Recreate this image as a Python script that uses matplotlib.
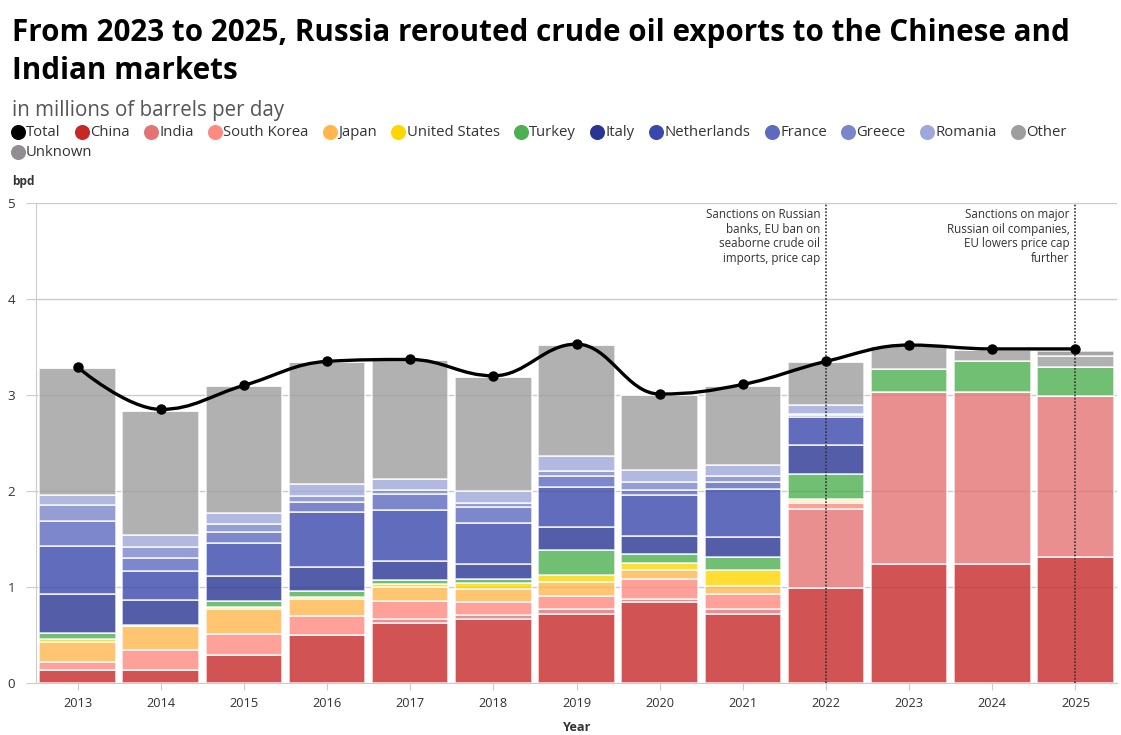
import numpy as np
import matplotlib
matplotlib.use("Agg")
import matplotlib.pyplot as plt
from matplotlib.path import Path
from matplotlib.patches import PathPatch
from matplotlib.lines import Line2D

plt.rcParams['font.family'] = ['Open Sans', 'DejaVu Sans']

# data, millions of barrels per day
years = ['2013', '2014', '2015', '2016', '2017', '2018', '2019',
         '2020', '2021', '2022', '2023', '2024', '2025']
total = [3.29, 2.85, 3.10, 3.35, 3.37, 3.20, 3.53, 3.01, 3.11, 3.35, 3.52, 3.48, 3.48]

china = [0.14, 0.14, 0.29, 0.50, 0.62, 0.67, 0.72, 0.84, 0.72, 0.99, 1.24, 1.24, 1.31]
india = [0.00, 0.00, 0.00, 0.00, 0.05, 0.04, 0.05, 0.03, 0.05, 0.82, 1.79, 1.79, 1.68]
south_korea = [0.08, 0.20, 0.22, 0.20, 0.18, 0.13, 0.14, 0.21, 0.16, 0.06, 0, 0, 0]
japan = [0.21, 0.25, 0.26, 0.18, 0.15, 0.14, 0.14, 0.10, 0.08, 0.03, 0, 0, 0]
united_states = [0.03, 0.00, 0.02, 0.02, 0.03, 0.06, 0.08, 0.07, 0.17, 0.02, 0, 0, 0]
turkey = [0.06, 0.01, 0.06, 0.06, 0.04, 0.04, 0.26, 0.09, 0.13, 0.26, 0.24, 0.32, 0.30]
italy = [0.41, 0.26, 0.26, 0.25, 0.20, 0.16, 0.23, 0.19, 0.21, 0.30, 0, 0, 0]
netherlands = [0.50, 0.31, 0.35, 0.57, 0.53, 0.43, 0.42, 0.43, 0.50, 0.29, 0, 0, 0]
france = [0.26, 0.13, 0.11, 0.11, 0.17, 0.16, 0.12, 0.05, 0.07, 0.02, 0, 0, 0]
greece = [0.16, 0.12, 0.09, 0.06, 0.04, 0.04, 0.05, 0.08, 0.07, 0.01, 0, 0, 0]
romania = [0.11, 0.12, 0.11, 0.12, 0.12, 0.13, 0.15, 0.13, 0.11, 0.10, 0, 0, 0]
other = [1.32, 1.29, 1.32, 1.27, 1.23, 1.19, 1.16, 0.78, 0.82, 0.44, 0.24, 0.12, 0.12]
unknown = [0, 0, 0, 0, 0, 0, 0, 0, 0, 0, 0, 0, 0.05]

series = [
    ('China', china, '#c62828'),
    ('India', india, '#e57373'),
    ('South Korea', south_korea, '#ff8a80'),
    ('Japan', japan, '#ffb74d'),
    ('United States', united_states, '#ffd600'),
    ('Turkey', turkey, '#4caf50'),
    ('Italy', italy, '#283593'),
    ('Netherlands', netherlands, '#3949ab'),
    ('France', france, '#5c6bc0'),
    ('Greece', greece, '#7986cb'),
    ('Romania', romania, '#9fa8da'),
    ('Other', other, '#9e9e9e'),
    ('Unknown', unknown, '#918d93'),
]

events = [
    (9, "Sanctions on Russian\nbanks, EU ban on\nseaborne crude oil\nimports, price cap"),
    (12, "Sanctions on major\nRussian oil companies,\nEU lowers price cap\nfurther"),
]

W, H = 1121, 735
fig = plt.figure(figsize=(W / 100, H / 100), dpi=100)
ax = fig.add_axes([36 / W, (H - 683) / H, (1117 - 36) / W, (683 - 203) / H])
renderer = fig.canvas.get_renderer()

x = np.arange(len(years))
bottom = np.zeros(len(years))
for name, vals, col in series:
    vals = np.array(vals)
    ax.bar(x, vals, width=0.92, bottom=bottom, color=col, alpha=0.8,
           edgecolor='white', linewidth=1.2, zorder=2)
    bottom += vals


# smooth line like a highcharts spline
def spline_path(xs, ys, smoothing=1.5):
    denom = smoothing + 1
    verts = [(xs[0], ys[0])]
    codes = [Path.MOVETO]
    ctrl = []
    n = len(xs)
    for i in range(n):
        if i == 0 or i == n - 1:
            ctrl.append(((xs[i], ys[i]), (xs[i], ys[i])))
            continue
        lx = (smoothing * xs[i] + xs[i - 1]) / denom
        ly = (smoothing * ys[i] + ys[i - 1]) / denom
        rx = (smoothing * xs[i] + xs[i + 1]) / denom
        ry = (smoothing * ys[i] + ys[i + 1]) / denom
        corr = (ry - ly) * (rx - xs[i]) / (rx - lx) + ys[i] - ry
        ly += corr
        ry += corr
        if ly > max(ys[i - 1], ys[i]):
            ly = max(ys[i - 1], ys[i])
            ry = 2 * ys[i] - ly
        elif ly < min(ys[i - 1], ys[i]):
            ly = min(ys[i - 1], ys[i])
            ry = 2 * ys[i] - ly
        if ry > max(ys[i + 1], ys[i]):
            ry = max(ys[i + 1], ys[i])
            ly = 2 * ys[i] - ry
        elif ry < min(ys[i + 1], ys[i]):
            ry = min(ys[i + 1], ys[i])
            ly = 2 * ys[i] - ry
        ctrl.append(((lx, ly), (rx, ry)))
    for i in range(1, n):
        verts += [ctrl[i - 1][1], ctrl[i][0], (xs[i], ys[i])]
        codes += [Path.CURVE4] * 3
    return Path(verts, codes)


ax.add_patch(PathPatch(spline_path(list(x), total), facecolor='none',
                       edgecolor='black', lw=2.4, zorder=4))
ax.plot(x, total, 'o', color='black', ms=6.5, zorder=5)

for xi, txt in events:
    ax.axvline(xi, color='#333333', ls=(0, (1, 1)), lw=1.2, zorder=3)
    ax.text(xi - 0.07, 4.95, txt, ha='right', va='top', fontsize=8.4,
            color='#333333', linespacing=1.18, zorder=6)

ax.set_xlim(-0.5, len(years) - 0.5)
ax.set_ylim(0, 5)
ax.set_xticks(x)
ax.set_xticklabels(years)
ax.set_yticks(range(6))
ax.tick_params(axis='x', length=5, color='#cccccc', labelsize=9.2,
               labelcolor='#333333', pad=5)
ax.tick_params(axis='y', length=7, color='#cccccc', labelsize=9.6,
               labelcolor='#333333', pad=8)
ax.grid(axis='y', color='#cccccc', lw=1, zorder=0)
for s in ['top', 'right']:
    ax.spines[s].set_visible(False)
ax.spines['left'].set_color('#cccccc')
ax.spines['bottom'].set_color('#cccccc')
ax.set_xlabel('Year', fontsize=9.2, fontweight='bold', color='#333333', labelpad=8)

fig.text(12 / W, 1 - 182 / H, 'bpd', fontsize=8.6, fontweight='bold',
         color='#333333', va='center')

# titles, sized to the width used in the original
t1 = fig.text(12 / W, 1 - 41 / H,
              'From 2023 to 2025, Russia rerouted crude oil exports to the Chinese and',
              fontsize=20, fontweight='bold', color='black', va='baseline')
t1.set_fontsize(20 * 1056 / t1.get_window_extent(renderer).width)
fig.text(12 / W, 1 - 79 / H, 'Indian markets', fontsize=t1.get_fontsize(),
         fontweight='bold', color='black', va='baseline')
st = fig.text(12 / W, 1 - 116 / H, 'in millions of barrels per day', fontsize=14,
              color='#555555', va='baseline')
st.set_fontsize(14 * 274 / st.get_window_extent(renderer).width)

# legend laid out by hand, wrapping like the original
items = [('Total', 'black')] + [(n, c) for n, _, c in series]
lx, ly = 11, 132
for name, col in items:
    t = fig.text(0, 0, name, fontsize=10.7, color='#333333', va='center')
    w = t.get_window_extent(renderer).width
    if lx + 16 + w > 1080:
        lx, ly = 11, ly + 20
    t.set_position(((lx + 15) / W, 1 - ly / H))
    fig.add_artist(Line2D([(lx + 6.5) / W], [1 - ly / H], marker='o', ms=9.8,
                          color=col, lw=0, transform=fig.transFigure))
    lx += 15 + w + 14.6

fig.savefig('out.png', dpi=100)
